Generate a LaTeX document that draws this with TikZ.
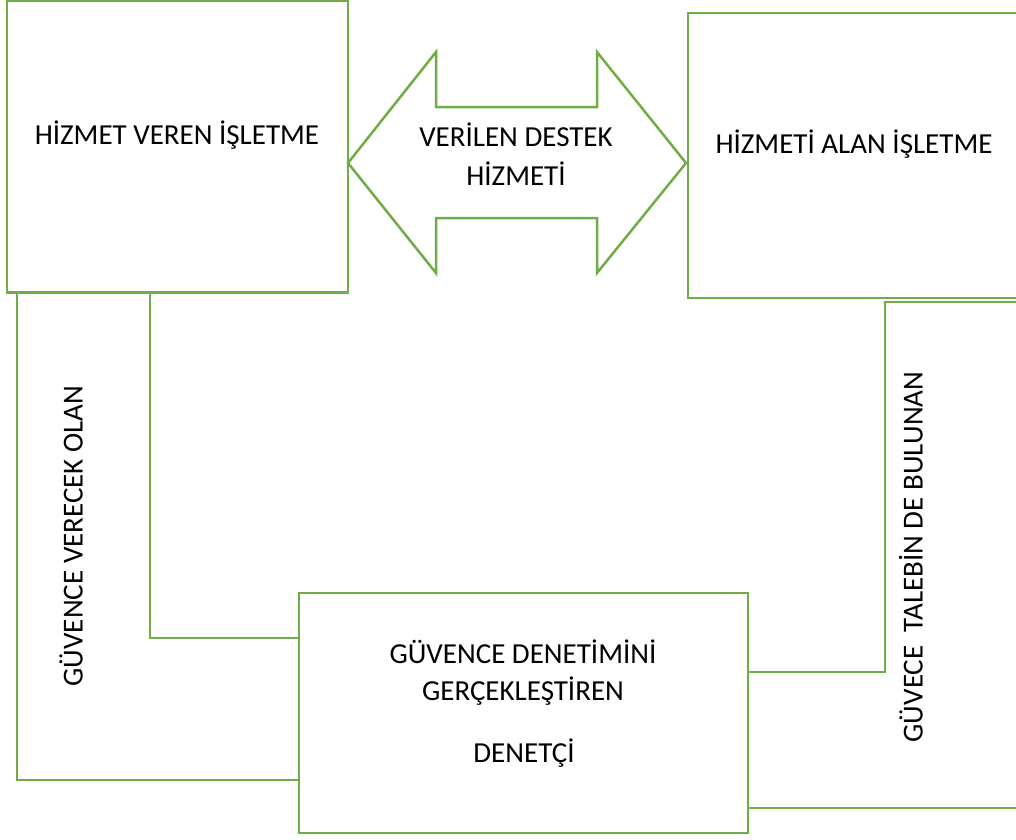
\documentclass[tikz,border=0pt]{standalone}
\usepackage{fontspec}
\setmainfont{Carlito}
\definecolor{gr}{HTML}{70AD47}
\begin{document}
\begin{tikzpicture}[x=1pt,y=-1pt,
  box/.style={draw=gr, line width=2.8pt, inner sep=0pt, rectangle},
  corner/.style={draw=gr, line width=2.5pt, line join=miter},
  lbl/.style={font=\fontsize{29}{35}\selectfont, inner sep=0pt, anchor=base}]
\useasboundingbox (0,0) rectangle (1016,839);
\clip (0,0) rectangle (1016,839);
% boxes
\node[box, minimum width=341pt, minimum height=292pt] (A) at (177.5,146.5) {};
\node[box, minimum width=342pt, minimum height=285pt] (B) at (859,155.5) {};
\node[box, minimum width=449pt, minimum height=240pt] (C) at (523.5,713) {};
% double arrow
\draw[corner] (348,163) -- (436,52) -- (436,107) -- (597,107) -- (597,52) -- (686,163)
  -- (597,273) -- (597,218) -- (436,218) -- (436,273) -- cycle;
% corner shapes
\draw[corner] (C.west |- 0,638) -- (150,638) -- (150,292) -- (17,292) -- (17,780) -- (C.west |- 0,780);
\draw[corner] (C.east |- 0,672) -- (885,672) -- (885,302) -- (1030,302);
\draw[corner] (C.east |- 0,808) -- (1030,808);
% texts
\node[lbl] (tA) at (177,144) {HİZMET VEREN İŞLETME};
\node[lbl] (tB) at (854,153) {HİZMETİ ALAN İŞLETME};
\node[lbl] (tD1) at (516,146) {VERİLEN DESTEK};
\node[lbl] (tD2) at (516,185) {HİZMETİ};
\node[lbl] (tC1) at (523,663) {GÜVENCE DENETİMİNİ};
\node[lbl] (tC2) at (523,700) {GERÇEKLEŞTİREN};
\node[lbl] (tC3) at (524,762) {DENETÇİ};
\node[lbl, rotate=90] (tL) at (82.5,536) {GÜVENCE VERECEK OLAN};
\node[lbl, rotate=90] (tR) at (922.5,557) {GÜVECE\ \ TALEBİN DE BULUNAN};
\end{tikzpicture}
\end{document}
